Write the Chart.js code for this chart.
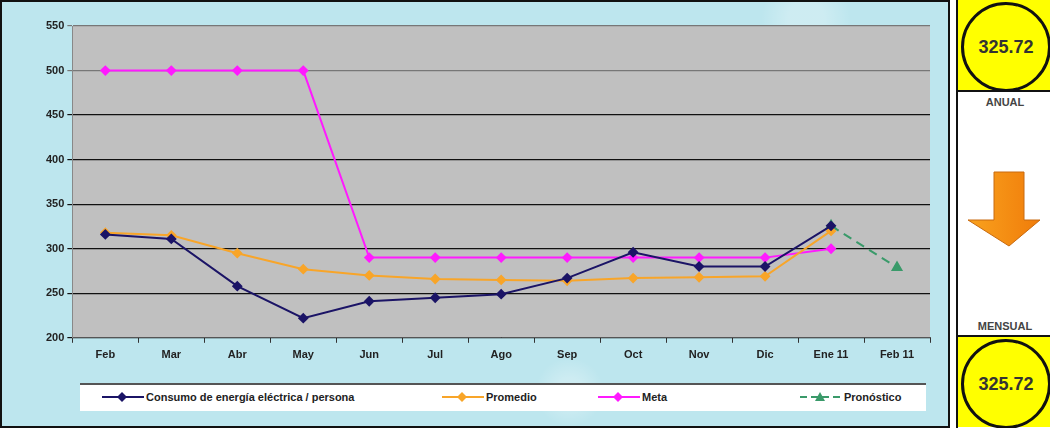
<!DOCTYPE html>
<html>
<head>
<meta charset="utf-8">
<script src="https://cdn.jsdelivr.net/npm/chart.js@4.4.1/dist/chart.umd.min.js"></script>
<style>
  body { margin: 0; width: 1050px; height: 428px; overflow: hidden; background: #fff;
         font-family: Arial, "Liberation Sans", sans-serif; }
  #panel { position: absolute; left: 0; top: 0; width: 946px; height: 424px;
           border: 2px solid #111;
           background:
             radial-gradient(circle at 12% 40%, rgba(255,255,255,.25) 0 2%, transparent 5%),
             radial-gradient(circle at 60% 92%, rgba(255,255,255,.25) 0 2%, transparent 5%),
             radial-gradient(circle at 85% 4%, rgba(255,255,255,.25) 0 2%, transparent 5%),
             #bde6ee; }
  #chart { position: absolute; left: 0; top: 0; }
  #legend { position: absolute; left: 78px; top: 381px; width: 846px; height: 26px;
            background: #fff; border-top: 2px solid #555; font-size: 11px; font-weight: bold; color: #222; }
  .item { position: absolute; top: 6px; display: flex; align-items: center; white-space: nowrap; }
  .item svg { margin-right: 2px; }
  #side { position: absolute; left: 956px; top: 0; width: 94px; height: 428px;
          border-left: 2px solid #111; background: #fff; }
  .box { position: absolute; left: 0; width: 94px; height: 92px; background: #ffff00;
         box-sizing: border-box; }
  .circle { position: absolute; left: 3px; top: 2px; width: 84px; height: 84px; border: 3px solid #111;
            border-radius: 50%; display: flex; align-items: center; justify-content: center;
            font-size: 18px; font-weight: bold; color: #333; }
  .cap { position: absolute; width: 94px; text-align: center; font-size: 11px; font-weight: bold; color: #444; }
</style>
</head>
<body>
<div id="panel">
  <canvas id="chart" width="946" height="424"></canvas>
  <div id="legend"></div>
</div>
<div id="side">
  <div class="box" style="top:0;border-bottom:2px solid #111"><div class="circle">325.72</div></div>
  <div class="cap" style="top:96px">ANUAL</div>
  <svg style="position:absolute;left:6px;top:170px" width="80" height="80">
    <defs><linearGradient id="g" x1="0" x2="1"><stop offset="0" stop-color="#f9a21e"/><stop offset="1" stop-color="#f07c0a"/></linearGradient></defs>
    <polygon points="30,2 60,2 60,50 76,50 45,76 4,50 30,50" fill="url(#g)" stroke="#c86a10" stroke-width="1"/>
  </svg>
  <div class="cap" style="top:320px">MENSUAL</div>
  <div class="box" style="top:335px;border-top:2px solid #111"><div class="circle">325.72</div></div>
</div>
<script>
const months = ['Feb', 'Mar', 'Abr', 'May', 'Jun', 'Jul', 'Ago', 'Sep', 'Oct', 'Nov', 'Dic', 'Ene 11', 'Feb 11']
const consumo    = [316, 311, 258, 222, 241, 245, 249, 267, 296, 280, 280, 325.72, null]
const promedio   = [318, 315, 295, 277, 270, 266, 265, 264, 267, 268, 269, 320, null]
const meta       = [500, 500, 500, 500, 290, 290, 290, 290, 290, 290, 290, 300, null]
const pronostico = [null, null, null, null, null, null, null, null, null, null, null, 325.72, 279]

const NAVY = '#1b1466', ORANGE = '#f8a529', PINK = '#ff1aff', GREEN = '#3a9a6a'

function series(label, data, color, extra) {
  return {
    label, data,
    borderColor: color, backgroundColor: color,
    borderWidth: 2, pointStyle: 'rectRot', pointRadius: 4, pointHoverRadius: 4,
    tension: 0, spanGaps: false,
    ...extra,
  }
}

const plotBg = {
  id: 'plotBg',
  beforeDraw(chart) {
    const { ctx, chartArea: a } = chart
    ctx.save()
    ctx.fillStyle = '#c0c0c0'
    ctx.fillRect(a.left, a.top, a.right - a.left, a.bottom - a.top)
    ctx.restore()
  },
}

new Chart(document.getElementById('chart'), {
  type: 'line',
  data: {
    labels: months,
    datasets: [
      series('Consumo de energía eléctrica / persona', consumo, NAVY),
      series('Promedio', promedio, ORANGE),
      series('Meta', meta, PINK),
      series('Pronóstico', pronostico, GREEN, { borderDash: [9, 6], pointStyle: 'triangle', pointRadius: 5 }),
    ],
  },
  options: {
    responsive: false,
    animation: false,
    layout: { padding: { left: 41, right: 18, top: 24, bottom: 58 } },
    plugins: { legend: { display: false }, tooltip: { enabled: false } },
    scales: {
      x: {
        offset: true,
        grid: { offset: true, drawOnChartArea: false, tickLength: 5, color: '#333' },
        border: { color: '#555', width: 1 },
        ticks: { color: '#222', font: { size: 11, weight: 'bold', family: 'Arial' }, padding: 6, maxRotation: 0 },
      },
      y: {
        min: 200, max: 550,
        ticks: { stepSize: 50, color: '#222', font: { size: 11, weight: 'bold', family: 'Arial' }, padding: 3 },
        grid: { color: (c) => c.tick && c.tick.value >= 500 ? '#777' : '#111', tickLength: 5, lineWidth: 1.2 },
        border: { color: '#888' },
      },
    },
  },
  plugins: [plotBg],
})

// legend
const legendItems = [
  { text: 'Consumo de energía eléctrica / persona', color: NAVY, marker: 'diamond', x: 22, dash: '' },
  { text: 'Promedio', color: ORANGE, marker: 'diamond', x: 362, dash: '' },
  { text: 'Meta', color: PINK, marker: 'diamond', x: 518, dash: '' },
  { text: 'Pronóstico', color: GREEN, marker: 'triangle', x: 720, dash: '7,4' },
]
const leg = document.getElementById('legend')
for (const it of legendItems) {
  const m = it.marker === 'diamond'
    ? `<polygon points="20,1 25,6 20,11 15,6" fill="${it.color}"/>`
    : `<polygon points="20,1 25,10 15,10" fill="${it.color}"/>`
  leg.insertAdjacentHTML('beforeend',
    `<div class="item" style="left:${it.x}px"><svg width="42" height="12">
      <line x1="0" y1="6" x2="42" y2="6" stroke="${it.color}" stroke-width="2" stroke-dasharray="${it.dash}"/>${m}
    </svg>${it.text}</div>`)
}
</script>
</body>
</html>
